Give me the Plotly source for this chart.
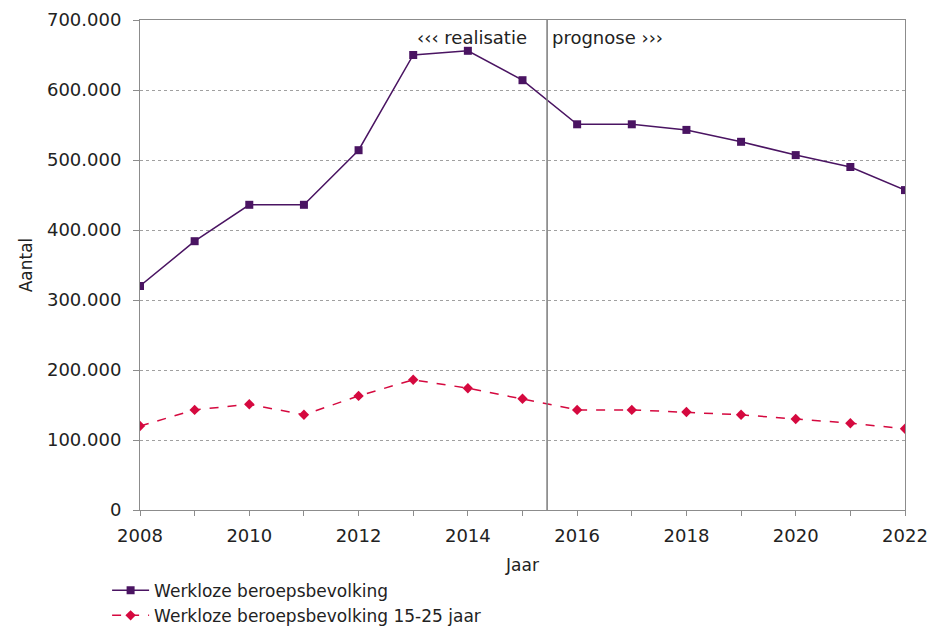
import plotly.graph_objects as go

jaren = list(range(2008, 2023))
werkloze = [320000, 384000, 436000, 436000, 514000, 650000, 656000, 614000,
            551000, 551000, 543000, 526000, 507000, 490000, 457000]
werkloze_jong = [120000, 143000, 151000, 136000, 163000, 186000, 174000, 159000,
                 143000, 143000, 140000, 136000, 130000, 124000, 116000]
grens_jaar = 2015.45

font = "DejaVu Sans, Verdana, sans-serif"
paars = "#4a1462"
rood = "#d5093f"
grijs = "#8c8c8c"
tekst = "#222222"

fig = go.Figure()
fig.add_trace(go.Scatter(
    x=jaren, y=werkloze, name="Werkloze beroepsbevolking",
    mode="lines+markers",
    line=dict(color=paars, width=1.5),
    marker=dict(symbol="square", size=8, color=paars),
))
fig.add_trace(go.Scatter(
    x=jaren, y=werkloze_jong, name="Werkloze beroepsbevolking 15-25 jaar",
    mode="lines+markers",
    line=dict(color=rood, width=1.5, dash="dash"),
    marker=dict(symbol="diamond", size=8, color=rood),
))

# scheiding realisatie / prognose
fig.add_shape(type="line", xref="x", yref="paper", x0=grens_jaar, x1=grens_jaar,
              y0=0, y1=1, line=dict(color="#7a7a7a", width=1.5))
fig.add_annotation(x=grens_jaar, y=1, xref="x", yref="paper", text="‹‹‹ realisatie",
                   showarrow=False, xanchor="right", yanchor="top", xshift=-18, yshift=-5,
                   font=dict(family=font, size=18, color=tekst))
fig.add_annotation(x=grens_jaar, y=1, xref="x", yref="paper", text="prognose ›››",
                   showarrow=False, xanchor="left", yanchor="top", xshift=3, yshift=-5,
                   font=dict(family=font, size=18, color=tekst))

fig.update_layout(
    width=929, height=629,
    margin=dict(l=140, r=24, t=20, b=119, autoexpand=False),
    paper_bgcolor="white", plot_bgcolor="white",
    separators=",.",
    font=dict(family=font, size=17, color=tekst),
    showlegend=True,
    legend=dict(
        orientation="v",
        x=-0.043, y=-0.128, xanchor="left", yanchor="top",
        font=dict(family=font, size=17, color=tekst),
        tracegroupgap=0, itemwidth=37,
    ),
)
fig.update_xaxes(
    range=[2008, 2022], dtick=2, tick0=2008,
    showgrid=False, zeroline=False,
    showline=True, linecolor=grijs, linewidth=1, mirror=True,
    ticks="outside", ticklen=5, tickcolor=grijs, ticklabelstandoff=4,
    minor=dict(dtick=1, ticks="outside", ticklen=5, tickcolor=grijs),
    title=dict(text="Jaar", standoff=14, font=dict(family=font, size=17)),
    tickfont=dict(family=font, size=18),
)
fig.update_yaxes(
    range=[0, 700000], dtick=100000, tickformat=",d",
    showgrid=True, gridcolor="#a0a0a0", griddash="dot", gridwidth=1,
    zeroline=False,
    showline=True, linecolor=grijs, linewidth=1, mirror=True,
    ticks="outside", ticklen=6, tickcolor=grijs, ticklabelstandoff=8,
    title=dict(text="Aantal", standoff=10, font=dict(family=font, size=17)),
    tickfont=dict(family=font, size=18),
)

# no body margin, so the 929x629 figure fills the window exactly
fig.write_html("out.html", config={"displayModeBar": False},
               post_script="document.body.style.margin = '0';")
